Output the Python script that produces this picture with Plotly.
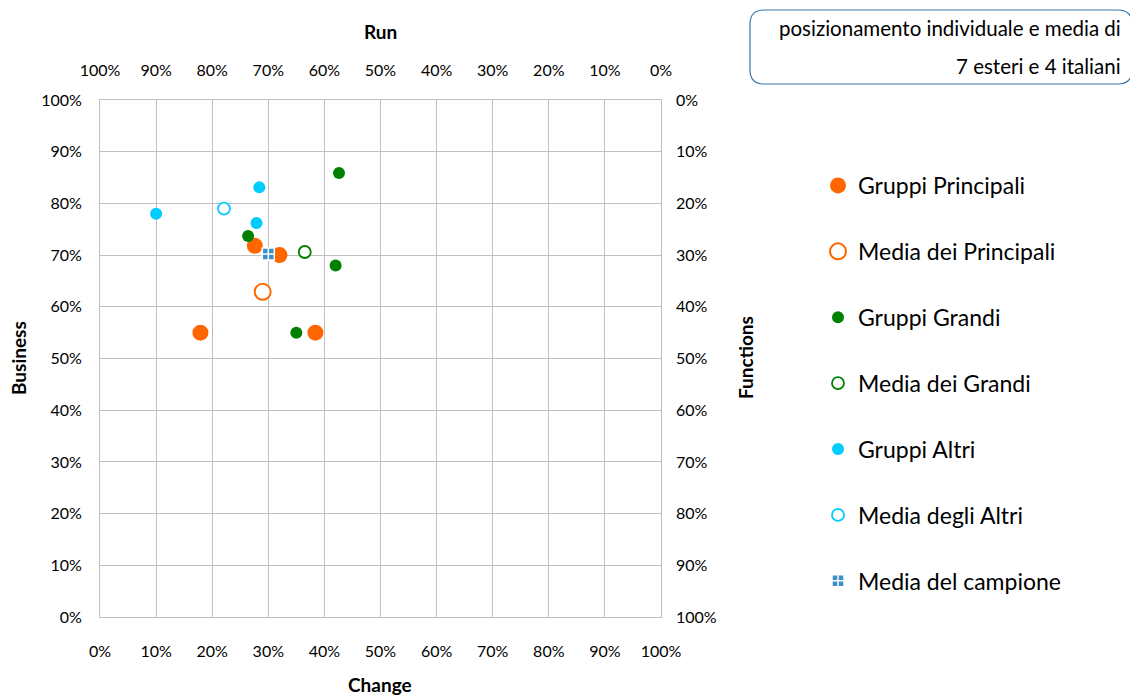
import plotly.graph_objects as go

# ---- data (percent) ----
princ_change = [27.6, 32.0, 17.9, 38.4]
princ_business = [71.8, 70.0, 55.0, 55.0]
grandi_change = [42.6, 26.4, 42.0, 35.0]
grandi_business = [85.9, 73.7, 68.0, 55.0]
altri_change = [10.0, 28.4, 27.9]
altri_business = [78.0, 83.1, 76.2]

media_princ = (29.0, 62.9)
media_grandi = (36.5, 70.6)
media_altri = (22.1, 79.0)
media_campione = (30.0, 70.2)

ticks = [0, 10, 20, 30, 40, 50, 60, 70, 80, 90, 100]
tick_labels = ["0%", "10%", "20%", "30%", "40%", "50%", "60%", "70%", "80%", "90%", "100%"]

FONT = "Lato"
OFF = 8  # page body margin in the browser
W, H = 1138 - OFF, 698 - OFF
L, R, T, B = 100, 661, 100, 617  # plot area in window pixels


def px(xp):
    return (xp - L) / (R - L)


def py(yp):
    return (B - yp) / (B - T)


fig = go.Figure()


def add(name, xs, ys, size, color, filled=True, symbol="circle", lw=0, lcolor=None):
    fig.add_trace(go.Scatter(
        x=xs, y=ys, mode="markers", name=name, legendgroup=name,
        marker=dict(size=size, symbol=symbol,
                    color=color if filled else "rgba(255,255,255,1)",
                    line=dict(width=lw, color=lcolor if lcolor else color)),
        hoverinfo="skip"))


add("Gruppi Principali", princ_change, princ_business, 16, "#ff6600")
add("Media dei Principali", [media_princ[0]], [media_princ[1]], 16, "#ff6600", filled=False, lw=2)
add("Gruppi Grandi", grandi_change, grandi_business, 12, "#008000")
add("Media dei Grandi", [media_grandi[0]], [media_grandi[1]], 12, "#008000", filled=False, lw=1.8)
add("Gruppi Altri", altri_change, altri_business, 12, "#00ccff")
add("Media degli Altri", [media_altri[0]], [media_altri[1]], 12, "#00ccff", filled=False, lw=1.8)
add("Media del campione", [media_campione[0]], [media_campione[1]], 12, "#3a8fc6",
    symbol="square-cross", lw=1.5, lcolor="white")

# invisible trace to anchor the secondary (Run / Functions) axes
fig.add_trace(go.Scatter(x=[100 - media_campione[0]], y=[100 - media_campione[1]],
                         xaxis="x2", yaxis="y2", mode="markers",
                         marker=dict(opacity=0), showlegend=False, hoverinfo="skip"))

tickfont = dict(family=FONT, size=16, color="#000000")
grid = "#bfbfbf"

fig.update_layout(
    width=W, height=H,
    margin=dict(l=L - OFF, r=1138 - R, t=T - OFF, b=698 - B, autoexpand=False),
    paper_bgcolor="white", plot_bgcolor="white",
    font=dict(family=FONT, color="#000000"),
    xaxis=dict(range=[0, 100], tickvals=ticks, ticktext=tick_labels, tickfont=tickfont,
               showgrid=True, gridcolor=grid, gridwidth=1, zeroline=False,
               showline=True, linecolor=grid, linewidth=1, mirror=True,
               ticks="", ticklabelstandoff=20),
    yaxis=dict(range=[0, 100], tickvals=ticks, ticktext=tick_labels, tickfont=tickfont,
               showgrid=True, gridcolor=grid, gridwidth=1, zeroline=False,
               showline=True, linecolor=grid, linewidth=1, mirror=True,
               ticks="", ticklabelstandoff=14),
    xaxis2=dict(range=[100, 0], tickvals=ticks, ticktext=tick_labels, tickfont=tickfont,
                overlaying="x", side="top", showgrid=False, zeroline=False,
                showline=False, ticks="", ticklabelstandoff=20),
    yaxis2=dict(range=[100, 0], tickvals=ticks, ticktext=tick_labels, tickfont=tickfont,
                overlaying="y", side="right", showgrid=False, zeroline=False,
                showline=False, ticks="", ticklabelstandoff=14),
    legend=dict(x=px(818), y=py(164), xanchor="left", yanchor="top",
                font=dict(family=FONT, size=23, color="#000000"),
                tracegroupgap=33, itemsizing="trace", bgcolor="rgba(0,0,0,0)"),
    showlegend=True,
)

# axis titles
titles = [
    ("Change", 380, 684, 0),
    ("Run", 380, 31, 0),
    ("Business", 18, 358, -90),
    ("Functions", 745, 358, -90),
]
for txt, xp, yp, ang in titles:
    fig.add_annotation(text=f"<b>{txt}</b>", x=px(xp), y=py(yp), xref="paper", yref="paper",
                       showarrow=False, textangle=ang, xanchor="center", yanchor="middle",
                       font=dict(family=FONT, size=19, color="#000000"))

# rounded box in the top right
x0, x1, y0, y1, r = 750, 1132, 10, 84, 14
X = px
Y = py
path = (f"M {X(x0 + r)},{Y(y0)} L {X(x1 - r)},{Y(y0)} Q {X(x1)},{Y(y0)} {X(x1)},{Y(y0 + r)} "
        f"L {X(x1)},{Y(y1 - r)} Q {X(x1)},{Y(y1)} {X(x1 - r)},{Y(y1)} "
        f"L {X(x0 + r)},{Y(y1)} Q {X(x0)},{Y(y1)} {X(x0)},{Y(y1 - r)} "
        f"L {X(x0)},{Y(y0 + r)} Q {X(x0)},{Y(y0)} {X(x0 + r)},{Y(y0)} Z")
fig.add_shape(type="path", path=path, xref="paper", yref="paper",
              line=dict(color="#3a78b0", width=1.2), fillcolor="white", layer="below")

for txt, yp in [("posizionamento individuale e media di", 28), ("7 esteri e 4 italiani", 66)]:
    fig.add_annotation(text=txt, x=px(1123), y=py(yp), xref="paper", yref="paper",
                       showarrow=False, xanchor="right", yanchor="middle",
                       font=dict(family=FONT, size=20.5, color="#000000"))

fig.write_html("out.html")
